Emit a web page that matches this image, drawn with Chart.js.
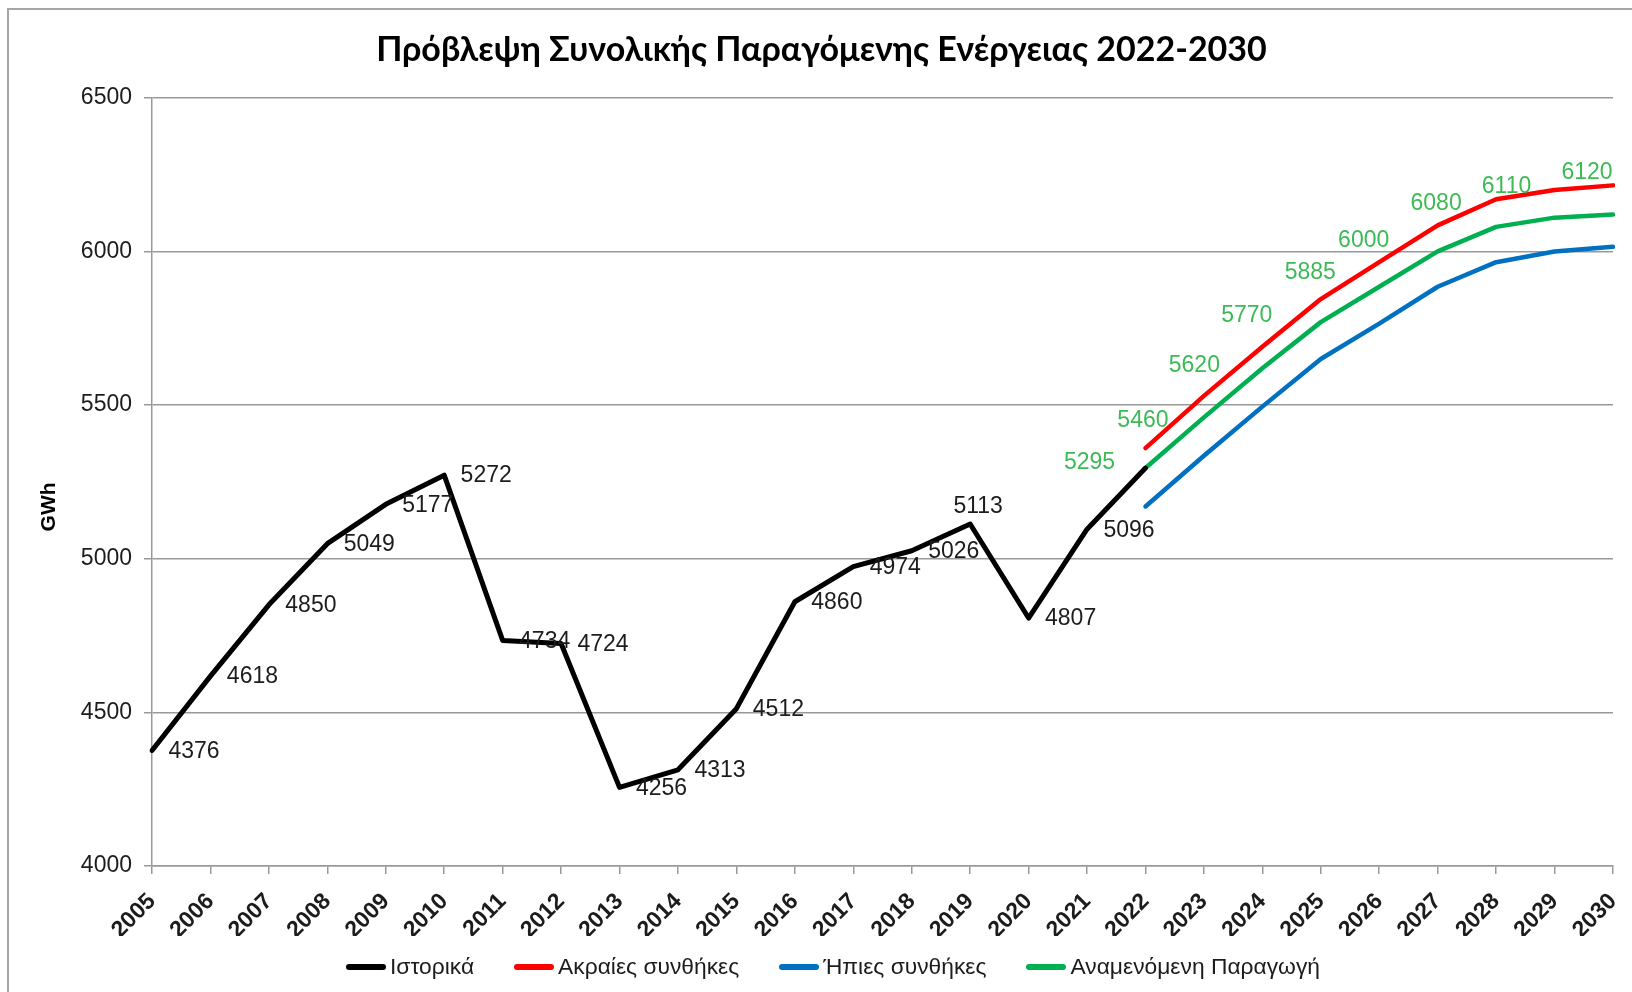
<!DOCTYPE html>
<html lang="el">
<head>
    <meta charset="UTF-8">
    <title>Πρόβλεψη Συνολικής Παραγόμενης Ενέργειας 2022-2030</title>
    <script src="https://cdn.jsdelivr.net/npm/chart.js"></script>
    <style>
        html, body { margin: 0; padding: 0; background: #fff; }
        .container { width: 1632px; height: 992px; position: relative; }
        canvas { display: block; }
        #legend {
            position: absolute; left: 346px; top: 952px; height: 28px;
            display: flex; align-items: center;
            font-family: "Liberation Sans", Arial, sans-serif; font-size: 22.8px; color: #1c1c1c;
        }
        .item { display: flex; align-items: center; margin-right: 40px; }
        .swatch { width: 40px; height: 6px; border-radius: 3px; margin-right: 4px; margin-top: 2px; }
    </style>
</head>
<body>
    <div class="container">
        <canvas id="myChart" width="1632" height="992"></canvas>
        <div id="legend"></div>
    </div>

    <script>
        // years on the x axis
        const years = ['2005','2006','2007','2008','2009','2010','2011','2012','2013','2014','2015','2016','2017','2018','2019','2020','2021','2022','2023','2024','2025','2026','2027','2028','2029','2030'];
        // GWh, 2005-2022
        const historical = [4376, 4618, 4850, 5049, 5177, 5272, 4734, 4724, 4256, 4313, 4512, 4860, 4974, 5026, 5113, 4807, 5096, 5295];
        // forecasts, 2022-2030
        const extreme = [5360, 5530, 5690, 5845, 5965, 6085, 6170, 6200, 6215];
        const mild = [5170, 5335, 5495, 5650, 5765, 5885, 5965, 6000, 6015];
        const expected = [5295, 5460, 5620, 5770, 5885, 6000, 6080, 6110, 6120];
        const yTicks = [4000, 4500, 5000, 5500, 6000, 6500];

        const forecastStart = years.indexOf('2022');
        const padForecast = arr => years.map((y, i) => i < forecastStart ? null : arr[i - forecastStart]);

        // label nudges (px) for the data labels, same as the excel chart
        const histNudge = { '2019': [8, -17] };
        const expectedNudge = [[-56, -5], [-61, 3], [-68, -3], [-74, -6], [-69, -14], [-74, -11], [-60, -23], [-48, -31], [-26, -42]];

        const arial = '"Liberation Sans", Arial, sans-serif';
        const labelFont = '23px ' + arial;

        const ctx = document.getElementById('myChart').getContext('2d');

        function lineSet(label, data, color, width) {
            return {
                label: label,
                data: data,
                borderColor: color,
                backgroundColor: color,
                borderWidth: width,
                pointRadius: 0,
                pointHoverRadius: 0,
                tension: 0,
                spanGaps: false,
                borderCapStyle: 'round',
                borderJoinStyle: 'round'
            };
        }

        const dataLabels = {
            id: 'dataLabels',
            afterDatasetsDraw: chart => {
                const c = chart.ctx;
                c.save();
                c.font = labelFont;
                c.textAlign = 'center';
                c.textBaseline = 'middle';

                // historical values, right of point (2022 is labelled by the green series)
                const hMeta = chart.getDatasetMeta(0);
                c.fillStyle = '#1c1c1c';
                hMeta.data.forEach((pt, i) => {
                    if (i >= historical.length - 1) return;
                    const n = histNudge[years[i]] || [42, 1];
                    c.fillText(String(historical[i]), pt.x + n[0], pt.y + n[1]);
                });

                // expected production values
                const gMeta = chart.getDatasetMeta(3);
                c.fillStyle = '#3dba57';
                gMeta.data.forEach((pt, i) => {
                    const k = i - forecastStart;
                    if (k < 0) return;
                    const n = expectedNudge[k];
                    c.fillText(String(expected[k]), pt.x + n[0], pt.y + n[1]);
                });
                c.restore();
            },
            afterDraw: chart => {
                // y axis title, sits a bit below the middle like the original
                const c = chart.ctx;
                const a = chart.chartArea;
                c.save();
                c.font = 'bold 21px ' + arial;
                c.fillStyle = '#000';
                c.textAlign = 'center';
                c.textBaseline = 'middle';
                c.translate(49, (a.top + a.bottom) / 2 + 25);
                c.rotate(-Math.PI / 2);
                c.fillText('GWh', 0, 0);
                c.restore();
            }
        };

        const frame = {
            id: 'frame',
            beforeDraw: chart => {
                const c = chart.ctx;
                c.save();
                c.strokeStyle = '#a6a6a6';
                c.lineWidth = 2;
                c.beginPath();
                c.moveTo(8, chart.height);
                c.lineTo(8, 9);
                c.lineTo(chart.width, 9);
                c.stroke();
                c.restore();
            }
        };

        const chart = new Chart(ctx, {
            type: 'line',
            data: {
                labels: years,
                datasets: [
                    lineSet('Ιστορικά', historical, '#000000', 5),
                    lineSet('Ακραίες συνθήκες', padForecast(extreme), '#ff0000', 4.5),
                    lineSet('Ήπιες συνθήκες', padForecast(mild), '#0070c0', 4.5),
                    lineSet('Αναμενόμενη Παραγωγή', padForecast(expected), '#00b050', 4.5)
                ]
            },
            options: {
                responsive: false,
                animation: false,
                devicePixelRatio: 1,
                layout: {
                    padding: { left: 30, right: 19, top: 0, bottom: 56 }
                },
                scales: {
                    x: {
                        type: 'category',
                        offset: false,
                        afterFit: scale => {
                            scale.height = 70;
                            scale.paddingLeft = 0;
                            scale.paddingRight = 0;
                        },
                        grid: {
                            display: true,
                            drawOnChartArea: false,
                            drawTicks: true,
                            tickLength: 8,
                            color: '#999999',
                            lineWidth: 1.5
                        },
                        border: { color: '#999999', width: 1.5 },
                        ticks: {
                            autoSkip: false,
                            minRotation: 45,
                            maxRotation: 45,
                            color: '#1c1c1c',
                            padding: 14,
                            font: { family: arial, size: 23, weight: 'bold' }
                        }
                    },
                    y: {
                        min: 4000,
                        max: 6500,
                        afterBuildTicks: axis => { axis.ticks = yTicks.map(v => ({ value: v })); },
                        afterFit: scale => { scale.width = 122; },
                        grid: {
                            color: '#999999',
                            lineWidth: 1.5,
                            tickLength: 8
                        },
                        border: { color: '#999999', width: 1.5 },
                        ticks: {
                            color: '#1c1c1c',
                            padding: 12,
                            callback: v => String(v),
                            font: { family: arial, size: 23 }
                        }
                    }
                },
                plugins: {
                    title: {
                        display: true,
                        text: 'Πρόβλεψη Συνολικής Παραγόμενης Ενέργειας 2022-2030',
                        color: '#000',
                        font: { family: 'Lato, "Open Sans", sans-serif', size: 34, weight: 'bold' },
                        padding: { top: 30, bottom: 27 }
                    },
                    legend: { display: false },
                    tooltip: { enabled: false }
                }
            },
            plugins: [dataLabels, frame]
        });

        // legend as html below the plot
        const legend = document.getElementById('legend');
        chart.data.datasets.forEach(ds => {
            const item = document.createElement('div');
            item.className = 'item';
            const sw = document.createElement('span');
            sw.className = 'swatch';
            sw.style.background = ds.borderColor;
            const txt = document.createElement('span');
            txt.textContent = ds.label;
            item.appendChild(sw);
            item.appendChild(txt);
            legend.appendChild(item);
        });
    </script>
</body>
</html>
